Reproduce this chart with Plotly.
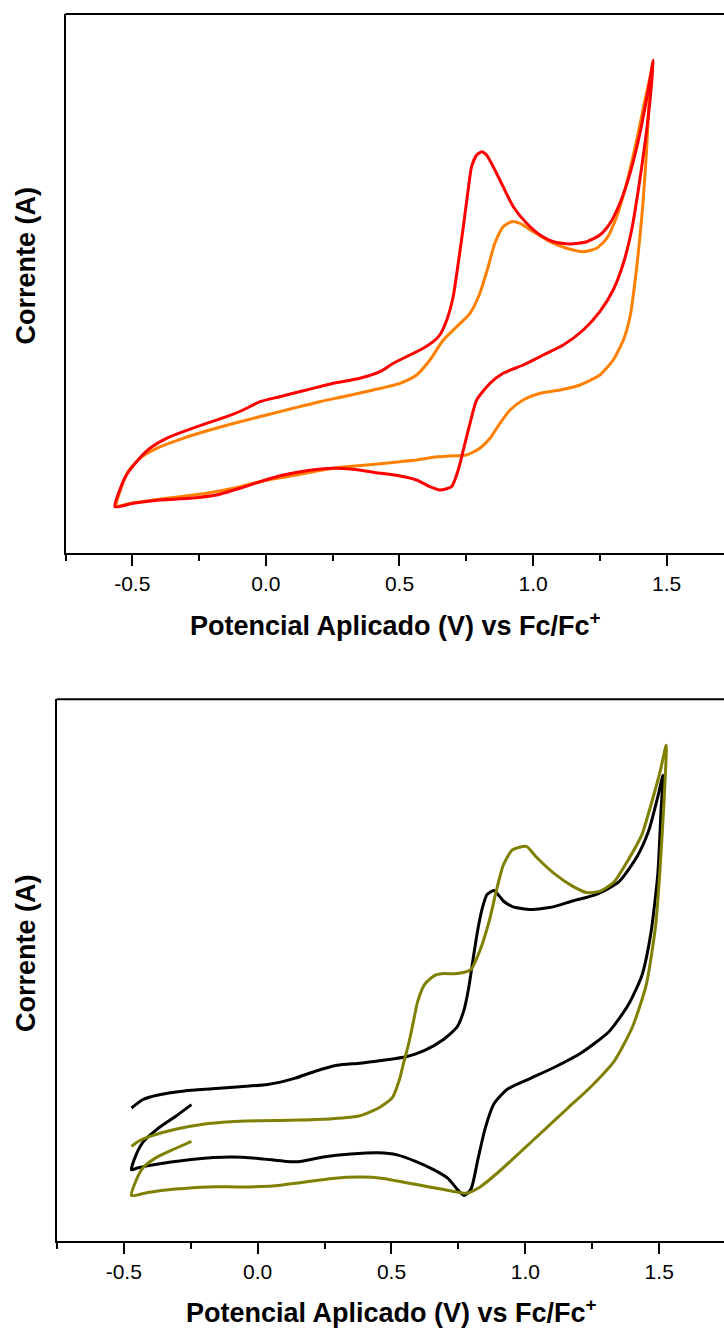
import plotly.graph_objects as go

# ---------------- Upper panel: red and orange voltammograms ----------------
red_v = [-0.565, -0.497, -0.397, -0.285, -0.185, -0.097, -0.022, 0.065, 0.152, 0.252,
         0.327, 0.414, 0.502, 0.564, 0.614, 0.651, 0.695, 0.720, 0.739, 0.764,
         0.789, 0.839, 0.888, 0.963, 1.038, 1.113, 1.188, 1.250, 1.300, 1.338,
         1.369, 1.394, 1.419, 1.438, 1.450,
         1.431, 1.400, 1.363, 1.325, 1.288, 1.250, 1.201, 1.138, 1.076, 1.026,
         0.976, 0.926, 0.888, 0.851, 0.826, 0.808, 0.789, 0.770, 0.757, 0.739,
         0.720, 0.701, 0.677, 0.651, 0.626, 0.589, 0.539, 0.477, 0.427, 0.352,
         0.252, 0.152, 0.052, -0.022, -0.085, -0.147, -0.222, -0.310, -0.372, -0.434,
         -0.484, -0.522, -0.547, -0.565]
red_i = [0.453, 0.487, 0.520, 0.537, 0.570, 0.637, 0.703, 0.770, 0.813, 0.837,
         0.827, 0.793, 0.760, 0.720, 0.653, 0.620, 0.653, 0.820, 1.020, 1.287,
         1.520, 1.687, 1.787, 1.870, 1.970, 2.070, 2.220, 2.403, 2.620, 2.887,
         3.220, 3.620, 4.087, 4.520, 4.920,
         4.620, 4.187, 3.787, 3.487, 3.287, 3.170, 3.103, 3.080, 3.103, 3.170,
         3.287, 3.453, 3.653, 3.853, 3.970, 4.003, 3.970, 3.853, 3.620, 3.253,
         2.887, 2.553, 2.320, 2.170, 2.103, 2.037, 1.970, 1.887, 1.803, 1.737,
         1.687, 1.620, 1.553, 1.503, 1.420, 1.353, 1.287, 1.203, 1.137, 1.037,
         0.903, 0.770, 0.620, 0.453]

orange_v = [-0.559, -0.497, -0.422, -0.322, -0.222, -0.122, -0.022, 0.077, 0.177, 0.277,
            0.377, 0.502, 0.564, 0.626, 0.689, 0.751, 0.801, 0.839, 0.876, 0.914,
            0.963, 1.026, 1.101, 1.176, 1.250, 1.300, 1.338, 1.363, 1.381, 1.407,
            1.425, 1.438, 1.449,
            1.444, 1.419, 1.388, 1.350, 1.313, 1.276, 1.238, 1.188, 1.126, 1.063,
            1.001, 0.951, 0.920, 0.888, 0.857, 0.832, 0.801, 0.764, 0.714, 0.664,
            0.614, 0.564, 0.502, 0.402, 0.302, 0.202, 0.102, 0.003, -0.097, -0.210,
            -0.310, -0.409, -0.472, -0.516, -0.540, -0.559]
orange_i = [0.460, 0.493, 0.520, 0.553, 0.587, 0.637, 0.703, 0.753, 0.803, 0.847,
            0.870, 0.903, 0.920, 0.947, 0.960, 0.970, 1.037, 1.137, 1.287, 1.420,
            1.520, 1.587, 1.620, 1.670, 1.770, 1.920, 2.120, 2.353, 2.690, 3.353,
            4.020, 4.690, 4.900,
            4.820, 4.520, 4.120, 3.687, 3.353, 3.137, 3.037, 3.003, 3.037, 3.103,
            3.203, 3.287, 3.303, 3.253, 3.087, 2.853, 2.587, 2.387, 2.253, 2.120,
            1.920, 1.770, 1.687, 1.620, 1.560, 1.503, 1.437, 1.370, 1.303, 1.220,
            1.137, 1.037, 0.937, 0.803, 0.653, 0.460]

# ---------------- Lower panel: black and olive voltammograms ----------------
black_v = [-0.247, -0.307, -0.376, -0.428, -0.454, -0.471, -0.445, -0.359, -0.238, -0.100,
           0.003, 0.107, 0.159, 0.245, 0.348, 0.452, 0.521, 0.590, 0.659, 0.711,
           0.745, 0.771, 0.797, 0.823, 0.849, 0.883, 0.935, 1.021, 1.107, 1.211,
           1.314, 1.383, 1.435, 1.469, 1.495, 1.507, 1.514,
           1.495, 1.461, 1.418, 1.349, 1.263, 1.176, 1.107, 1.021, 0.952, 0.918,
           0.883, 0.857, 0.840, 0.823, 0.805, 0.788, 0.771, 0.745, 0.693, 0.624,
           0.555, 0.469, 0.383, 0.297, 0.210, 0.141, 0.038, -0.066, -0.169, -0.273,
           -0.376, -0.428, -0.471]
black_i = [1.364, 1.245, 1.117, 0.989, 0.861, 0.711, 0.733, 0.775, 0.818, 0.839,
           0.826, 0.796, 0.796, 0.839, 0.869, 0.882, 0.861, 0.796, 0.711, 0.626,
           0.519, 0.455, 0.519, 0.818, 1.117, 1.373, 1.522, 1.629, 1.735, 1.885,
           2.098, 2.354, 2.653, 3.080, 3.677, 4.317, 4.658,
           4.445, 4.104, 3.848, 3.592, 3.464, 3.400, 3.344, 3.314, 3.344, 3.400,
           3.506, 3.464, 3.336, 3.122, 2.823, 2.524, 2.311, 2.140, 2.012, 1.906,
           1.842, 1.808, 1.778, 1.757, 1.693, 1.629, 1.565, 1.543, 1.522, 1.501,
           1.458, 1.415, 1.330]

olive_v = [-0.247, -0.307, -0.376, -0.428, -0.454, -0.471, -0.410, -0.307, -0.186, -0.066,
           0.055, 0.159, 0.279, 0.383, 0.469, 0.555, 0.642, 0.728, 0.780, 0.831,
           0.900, 0.987, 1.073, 1.159, 1.245, 1.332, 1.400, 1.452, 1.487, 1.504,
           1.518, 1.526,
           1.504, 1.469, 1.435, 1.383, 1.332, 1.280, 1.228, 1.176, 1.107, 1.038,
           1.004, 0.952, 0.918, 0.892, 0.866, 0.831, 0.797, 0.745, 0.693, 0.659,
           0.624, 0.598, 0.581, 0.564, 0.547, 0.529, 0.504, 0.452, 0.383, 0.279,
           0.159, 0.003, -0.100, -0.204, -0.307, -0.393, -0.445, -0.471]
olive_i = [0.997, 0.925, 0.839, 0.733, 0.605, 0.455, 0.485, 0.519, 0.541, 0.541,
           0.549, 0.583, 0.626, 0.639, 0.626, 0.583, 0.541, 0.498, 0.477, 0.541,
           0.690, 0.903, 1.117, 1.330, 1.543, 1.799, 2.140, 2.567, 3.164, 3.762,
           4.402, 4.957,
           4.701, 4.360, 4.061, 3.805, 3.592, 3.498, 3.485, 3.549, 3.677, 3.848,
           3.946, 3.912, 3.762, 3.506, 3.208, 2.909, 2.717, 2.674, 2.674, 2.652,
           2.567, 2.396, 2.183, 1.970, 1.799, 1.607, 1.437, 1.330, 1.253, 1.223,
           1.210, 1.202, 1.193, 1.168, 1.117, 1.053, 0.997, 0.946]

tick_vals = [-0.5, 0.0, 0.5, 1.0, 1.5]
tick_text = ["-0.5", "0.0", "0.5", "1.0", "1.5"]
x_title = "<b>Potencial Aplicado (V) vs Fc/Fc<sup>+</sup></b>"
y_title = "<b>Corrente (A)</b>"

W, H = 724, 1329
FONT = "Arial, 'Liberation Sans', sans-serif"


def py(pix):
    """Convert a vertical pixel position (from the top) to paper units."""
    return (H - pix) / H


def curve(v, i, color, ax, ay):
    return go.Scatter(x=v, y=i, mode="lines",
                      line=dict(color=color, width=3, shape="spline", smoothing=0.6),
                      xaxis=ax, yaxis=ay, hoverinfo="skip")


fig = go.Figure()
fig.add_trace(curve(orange_v, orange_i, "#FF8000", "x", "y"))
fig.add_trace(curve(red_v, red_i, "#FF0000", "x", "y"))
fig.add_trace(curve(black_v, black_i, "#000000", "x2", "y2"))
fig.add_trace(curve(olive_v, olive_i, "#808000", "x2", "y2"))

xcommon = dict(
    showline=True, linecolor="black", linewidth=2,
    ticks="outside", ticklen=11, tickwidth=2, tickcolor="black",
    tickvals=tick_vals, ticktext=tick_text,
    tickfont=dict(family=FONT, size=21, color="black"),
    minor=dict(ticks="outside", ticklen=6, tickwidth=2, tickcolor="black",
               dtick=0.25, tick0=0, showgrid=False),
    showgrid=False, zeroline=False, fixedrange=True,
)
ycommon = dict(
    showline=True, linecolor="black", linewidth=2,
    ticks="", showticklabels=False, showgrid=False, zeroline=False, fixedrange=True,
)

fig.update_layout(
    width=W, height=H,
    margin=dict(l=0, r=0, t=0, b=0),
    paper_bgcolor="white", plot_bgcolor="white",
    showlegend=False,
    xaxis=dict(domain=[65.5 / W, 1.0], range=[-0.75, 1.7147], anchor="y", **xcommon),
    yaxis=dict(domain=[py(552.5), py(14)], range=[-0.005, 5.38], anchor="x", **ycommon),
    xaxis2=dict(domain=[56.8 / W, 1.0], range=[-0.75, 1.742], anchor="y2", **xcommon),
    yaxis2=dict(domain=[py(1241), py(699.3)], range=[0.0, 5.417], anchor="x2", **ycommon),
    shapes=[
        dict(type="line", xref="x domain", yref="y domain", x0=0, x1=1, y0=1, y1=1,
             line=dict(color="black", width=2)),
        dict(type="line", xref="x2 domain", yref="y2 domain", x0=0, x1=1, y0=1, y1=1,
             line=dict(color="black", width=2)),
    ],
    annotations=[
        dict(text=x_title, xref="paper", yref="paper", x=395 / W, y=py(624),
             xanchor="center", yanchor="middle", showarrow=False,
             font=dict(family=FONT, size=27, color="black")),
        dict(text=y_title, xref="paper", yref="paper", x=25.5 / W, y=py(266),
             xanchor="center", yanchor="middle", textangle=-90, showarrow=False,
             font=dict(family=FONT, size=27, color="black")),
        dict(text=x_title, xref="paper", yref="paper", x=391 / W, y=py(1311),
             xanchor="center", yanchor="middle", showarrow=False,
             font=dict(family=FONT, size=27, color="black")),
        dict(text=y_title, xref="paper", yref="paper", x=26 / W, y=py(953),
             xanchor="center", yanchor="middle", textangle=-90, showarrow=False,
             font=dict(family=FONT, size=27, color="black")),
    ],
)

fig.write_html("out.html", config={"displayModeBar": False})
